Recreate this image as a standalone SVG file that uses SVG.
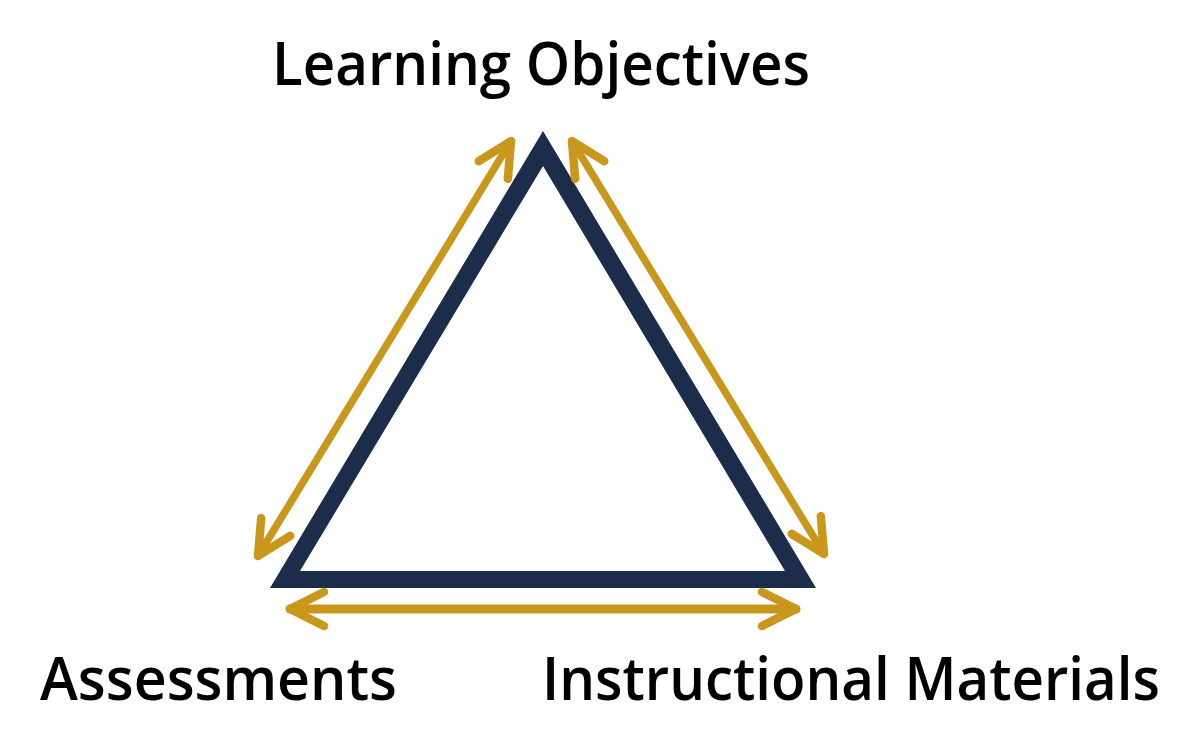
<svg xmlns="http://www.w3.org/2000/svg" width="1200" height="753" viewBox="0 0 1200 753">
<style>
.lbl{font-family:"Open Sans","DejaVu Sans",sans-serif;font-weight:600;font-size:60px;fill:#000}
.arr{fill:none;stroke:#C9971C;stroke-width:7.5;stroke-linecap:round;marker-start:url(#h);marker-end:url(#h)}
</style>
<defs>
<marker id="h" markerUnits="userSpaceOnUse" viewBox="-50 -30 60 60" markerWidth="60" markerHeight="60" refX="0" refY="0" orient="auto-start-reverse" overflow="visible">
<path d="M-34,-17 L0,0 L-34,17" fill="none" stroke="#C9971C" stroke-width="8.5" stroke-linecap="round" stroke-linejoin="round"/>
</marker>
</defs>
<rect width="1200" height="753" fill="#fff"/>
<g id="triangle">
<path d="M543,131 L270,588 L816,588 Z M543,166 L300,571 L785,571 Z" fill="#1B2D4B" fill-rule="evenodd"/>
</g>
<g id="connectors">
<line class="arr" x1="258" y1="556" x2="511" y2="141"/>
<line class="arr" x1="572" y1="141" x2="824" y2="554"/>
<line class="arr" x1="290" y1="609" x2="796" y2="609" style="stroke-width:9"/>
</g>
<g id="node-objectives"><text class="lbl" x="272" y="85" textLength="538" lengthAdjust="spacingAndGlyphs">Learning Objectives</text></g>
<g id="node-assessments"><text class="lbl" x="40" y="700" textLength="357" lengthAdjust="spacingAndGlyphs">Assessments</text></g>
<g id="node-materials"><text class="lbl" x="542" y="700" textLength="618" lengthAdjust="spacingAndGlyphs">Instructional Materials</text></g>
</svg>
